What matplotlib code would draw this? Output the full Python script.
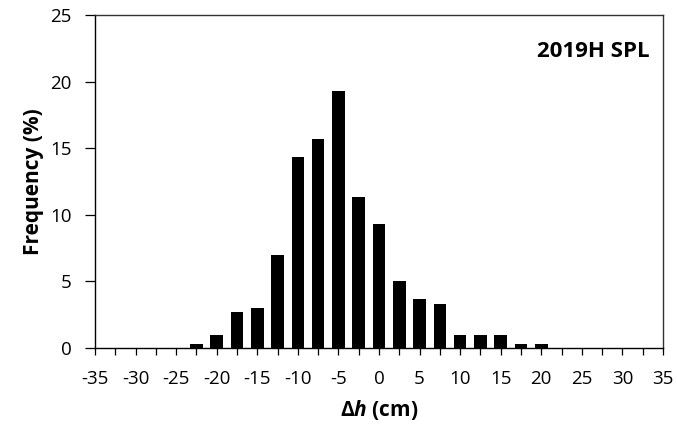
import matplotlib
matplotlib.use("Agg")
import matplotlib.pyplot as plt
import numpy as np

# Height-difference bins (cm) and their frequency (%)
dh_bins = [-22.5, -20, -17.5, -15, -12.5, -10, -7.5, -5, -2.5, 0,
           2.5, 5, 7.5, 10, 12.5, 15, 17.5, 20]
freq_pct = [0.33, 1.0, 2.67, 3.0, 7.0, 14.33, 15.67, 19.33, 11.33, 9.33,
            5.0, 3.67, 3.33, 1.0, 1.0, 1.0, 0.33, 0.33]

x_ticks = np.arange(-35, 35.1, 2.5)
x_labels = [f"{int(v)}" if v % 5 == 0 else "" for v in x_ticks]
y_ticks = [0, 5, 10, 15, 20, 25]
panel_label = "2019H SPL"

plt.rcParams['font.family'] = ['Open Sans', 'DejaVu Sans']
plt.rcParams['mathtext.fontset'] = 'custom'
plt.rcParams['mathtext.it'] = 'Open Sans:bold:italic'
plt.rcParams['mathtext.rm'] = 'Open Sans:bold'

fig = plt.figure(figsize=(6.77, 4.29), dpi=100)
W, H = 677, 429
ax = fig.add_axes([95 / W, 1 - 348 / H, (663 - 95) / W, (348 - 15) / H])

ax.bar(dh_bins, freq_pct, width=1.55, color="black", zorder=3)

ax.set_xlim(-35, 35)
ax.set_ylim(0, 25)
ax.set_xticks(x_ticks)
ax.set_xticklabels(x_labels, fontsize=13.5)
ax.set_yticks(y_ticks)
ax.set_yticklabels([str(v) for v in y_ticks], fontsize=13.5)
ax.tick_params(axis="x", direction="out", length=5, width=0.9, pad=11)
ax.tick_params(axis="y", direction="out", length=7, width=0.9, pad=10)

for sp in ax.spines.values():
    sp.set_linewidth(1.0)
    sp.set_color("#333333")
ax.spines["bottom"].set_color("black")
ax.spines["left"].set_color("black")

ax.set_xlabel("Δ$\\mathit{h}$ (cm)", fontsize=15, fontweight="bold", labelpad=7)
ax.set_ylabel("Frequency (%)", fontsize=15, fontweight="bold", labelpad=4)

ax.text(0.977, 0.89, panel_label, transform=ax.transAxes, ha="right", va="center",
        fontsize=16, fontweight="bold")

fig.savefig("out.png", dpi=100)
